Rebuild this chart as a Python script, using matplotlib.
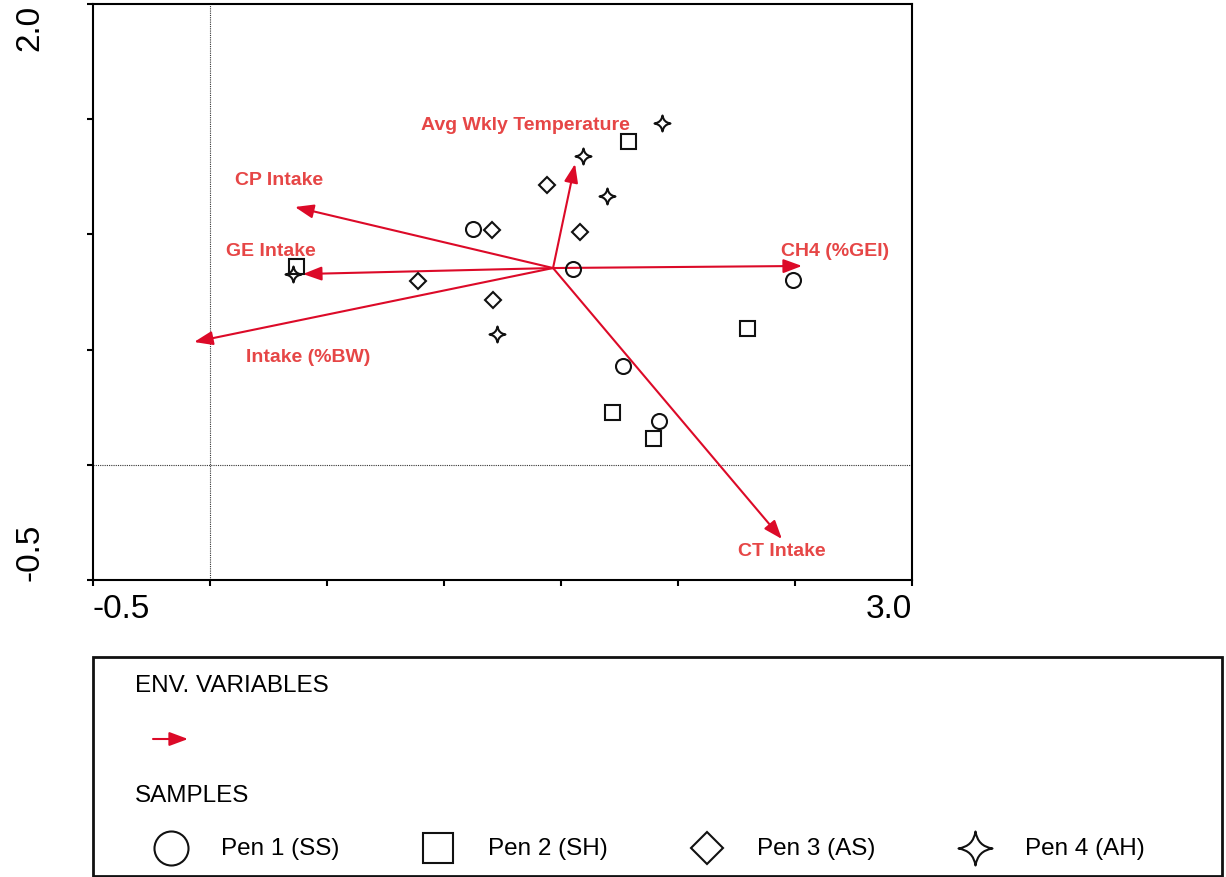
import numpy as np
import matplotlib
matplotlib.use("Agg")
import matplotlib.pyplot as plt
from matplotlib.path import Path
from matplotlib.patches import Rectangle, FancyArrowPatch
from matplotlib.lines import Line2D
import matplotlib.transforms as mtransforms

plt.rcParams['font.family'] = ['Liberation Sans', 'DejaVu Sans']

# environmental variables (biplot arrows)
env_names = ["Avg Wkly Temperature", "CP Intake", "GE Intake",
             "Intake (%BW)", "CH4 (%GEI)", "CT Intake"]
env_origin = (1.466, 0.854)
env_x = [1.560, 0.363, 0.397, -0.068, 2.530, 2.444]
env_y = [1.306, 1.119, 0.828, 0.533, 0.863, -0.322]

# sample scores per pen
pen1_x = [1.124, 1.551, 2.491, 1.765, 1.919]
pen1_y = [1.023, 0.850, 0.802, 0.429, 0.190]
pen2_x = [1.786, 0.368, 2.295, 1.718, 1.893]
pen2_y = [1.405, 0.863, 0.594, 0.229, 0.116]
pen3_x = [1.440, 1.205, 1.581, 0.889, 1.209]
pen3_y = [1.214, 1.019, 1.010, 0.798, 0.715]
pen4_x = [1.932, 1.594, 1.697, 0.355, 1.226]
pen4_y = [1.484, 1.340, 1.167, 0.828, 0.568]
pen_names = ["Pen 1 (SS)", "Pen 2 (SH)", "Pen 3 (AS)", "Pen 4 (AH)"]

W, H = 1226, 878


def fx(px):
    return px / W


def fy(py):
    return 1 - py / H


# 4-point star with concave sides
c = 0.13
star = Path(
    [(0, 1), (c, c), (1, 0), (c, -c), (0, -1), (-c, -c), (-1, 0), (-c, c), (0, 1), (0, 1)],
    [Path.MOVETO, Path.CURVE3, Path.CURVE3, Path.CURVE3, Path.CURVE3,
     Path.CURVE3, Path.CURVE3, Path.CURVE3, Path.CURVE3, Path.CLOSEPOLY])

arrow_col = '#dc0a28'
label_col = '#e64646'
ink = '#111111'

fig = plt.figure(figsize=(W / 100, H / 100), dpi=100)
ax = fig.add_axes([fx(93), fy(581), fx(912) - fx(93), fy(5) - fy(581)])
ax.set_xlim(-0.5, 3.0)
ax.set_ylim(-0.5, 2.0)

ax.axvline(0, color='#333333', lw=0.8, ls=(0, (1, 1)), zorder=1)
ax.axhline(0, color='#333333', lw=0.8, ls=(0, (1, 1)), zorder=1)

for x1, y1 in zip(env_x, env_y):
    ax.annotate("", xy=(x1, y1), xytext=env_origin,
                arrowprops=dict(arrowstyle="-|>,head_length=0.75,head_width=0.28",
                                mutation_scale=15, color=arrow_col, lw=1.5,
                                shrinkA=0, shrinkB=0), zorder=2)

label_pos = [(1.346, 1.479), (0.295, 1.240), (0.261, 0.928),
             (0.419, 0.472), (2.671, 0.928), (2.444, -0.374)]
for name, (lx, ly) in zip(env_names, label_pos):
    ax.text(lx, ly, name, color=label_col, fontsize=14, fontweight='bold',
            ha='center', va='center', zorder=4)

mk = dict(ls='none', mfc='none', mec=ink, mew=1.5, zorder=3)
ax.plot(pen1_x, pen1_y, marker='o', ms=10.8, **mk)
ax.plot(pen2_x, pen2_y, marker='s', ms=10.8, **mk)
ax.plot(pen3_x, pen3_y, marker='D', ms=8.1, **mk)
ax.plot(pen4_x, pen4_y, marker=star, ms=11.5, **mk)

for s in ax.spines.values():
    s.set_linewidth(1.5)
ax.set_xticks(np.arange(-0.5, 3.01, 0.5))
ax.set_yticks(np.arange(-0.5, 2.01, 0.5))
ax.set_xticklabels([])
ax.set_yticklabels([])
ax.tick_params(direction='out', length=4, width=1.5)

# only the end values are labelled
xt = mtransforms.blended_transform_factory(ax.transData, fig.transFigure)
ax.text(-0.5, fy(609), "-0.5", transform=xt, ha='left', va='center', fontsize=24)
ax.text(3.0, fy(609), "3.0", transform=xt, ha='right', va='center', fontsize=24)
yt = mtransforms.blended_transform_factory(fig.transFigure, ax.transData)
ax.text(fx(30), 2.0, "2.0", transform=yt, rotation=90, ha='center', va='top',
        fontsize=24, clip_on=False)
ax.text(fx(30), -0.5, "-0.5", transform=yt, rotation=90, ha='center', va='bottom',
        fontsize=24, clip_on=False)

# legend panel
fig.add_artist(Rectangle((fx(93), fy(877)), fx(1222) - fx(93), fy(658) - fy(877),
                         transform=fig.transFigure, fill=False, lw=2, ec=ink))
fig.text(fx(135), fy(686), "ENV. VARIABLES", fontsize=17.5, va='center')
fig.add_artist(FancyArrowPatch((fx(153), fy(740)), (fx(188), fy(740)),
                               transform=fig.transFigure,
                               arrowstyle="-|>,head_length=0.75,head_width=0.28",
                               mutation_scale=15, color=arrow_col, lw=1.5,
                               shrinkA=0, shrinkB=0))
fig.text(fx(135), fy(796), "SAMPLES", fontsize=17.5, va='center')

leg_markers = [('o', 24.5), ('s', 21.6), ('D', 16.8), (star, 24.5)]
leg_x = [171, 438, 707, 975]
for (m, ms), name, px in zip(leg_markers, pen_names, leg_x):
    fig.add_artist(Line2D([fx(px)], [fy(849)], transform=fig.transFigure,
                          marker=m, ms=ms, mfc='none', mec=ink, mew=1.5, ls='none'))
    fig.text(fx(px + 50), fy(849), name, fontsize=17.5, va='center')

fig.savefig("out.png", dpi=100)
